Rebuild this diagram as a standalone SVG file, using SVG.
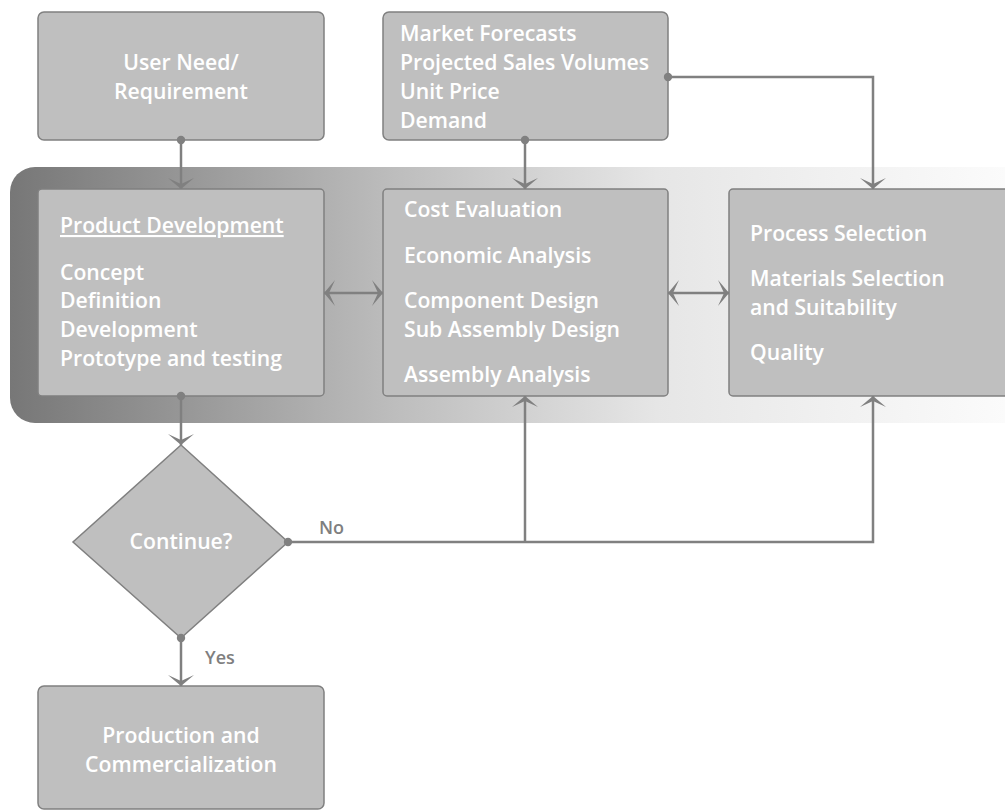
<svg xmlns="http://www.w3.org/2000/svg" width="1005" height="811" viewBox="0 0 1005 811">
<defs>
<linearGradient id="band" x1="10" y1="0" x2="1005" y2="0" gradientUnits="userSpaceOnUse">
<stop offset="0" stop-color="#777777"/>
<stop offset="0.38" stop-color="#bcbcbc"/>
<stop offset="0.65" stop-color="#e6e6e6"/>
<stop offset="1" stop-color="#fbfbfb"/>
</linearGradient>
<marker id="arr" viewBox="-14 -14 28 28" markerWidth="28" markerHeight="28" refX="0" refY="0" orient="auto-start-reverse" markerUnits="userSpaceOnUse">
<path d="M0,0 L-11,-13 L-5,0 L-11,13 Z" fill="#808080"/>
</marker>
<marker id="dot" viewBox="-5 -5 10 10" markerWidth="10" markerHeight="10" refX="0" refY="0" markerUnits="userSpaceOnUse">
<circle cx="0" cy="0" r="4.2" fill="#808080"/>
</marker>
<style>
.box{fill:#bfbfbf;stroke:#808080;stroke-width:1.5}
.t{font-family:"Open Sans","Liberation Sans",sans-serif;font-weight:600;font-size:21.2px;fill:#ffffff}
.c{text-anchor:middle}
.lbl{font-family:"Open Sans","Liberation Sans",sans-serif;font-weight:600;font-size:18px;fill:#7f7f7f}
.ln{fill:none;stroke:#808080;stroke-width:2.5}
</style>
</defs>
<rect x="0" y="0" width="1005" height="811" fill="#ffffff"/>
<rect id="band-bg" x="10" y="167" width="1030" height="256" rx="25" ry="25" fill="url(#band)"/>

<g id="user-need">
<rect class="box" x="38" y="12" width="286" height="128" rx="6"/>
<text class="t c" x="181" y="70">User Need/</text>
<text class="t c" x="181" y="99">Requirement</text>
</g>

<g id="market">
<rect class="box" x="383" y="12" width="285" height="128" rx="6"/>
<text class="t" x="400" y="41">Market Forecasts</text>
<text class="t" x="400" y="70">Projected Sales Volumes</text>
<text class="t" x="400" y="99">Unit Price</text>
<text class="t" x="400" y="128">Demand</text>
</g>

<g id="product-dev">
<rect class="box" x="38" y="189" width="286" height="207" rx="4"/>
<text class="t" x="60" y="233" text-decoration="underline">Product Development</text>
<text class="t" x="60" y="280">Concept</text>
<text class="t" x="60" y="308">Definition</text>
<text class="t" x="60" y="337">Development</text>
<text class="t" x="60" y="366">Prototype and testing</text>
</g>

<g id="cost">
<rect class="box" x="383" y="189" width="285" height="207" rx="4"/>
<text class="t" x="404" y="217">Cost Evaluation</text>
<text class="t" x="404" y="263">Economic Analysis</text>
<text class="t" x="404" y="308">Component Design</text>
<text class="t" x="404" y="337">Sub Assembly Design</text>
<text class="t" x="404" y="382">Assembly Analysis</text>
</g>

<g id="process">
<rect class="box" x="729" y="189" width="300" height="207" rx="4"/>
<text class="t" x="750" y="241">Process Selection</text>
<text class="t" x="750" y="286">Materials Selection</text>
<text class="t" x="750" y="315">and Suitability</text>
<text class="t" x="750" y="360">Quality</text>
</g>

<g id="continue">
<polygon class="box" points="181,445 288,542 181,638 73,542"/>
<text class="t c" x="181" y="549">Continue?</text>
</g>

<g id="production">
<rect class="box" x="38" y="686" width="286" height="123" rx="6"/>
<text class="t c" x="181" y="743">Production and</text>
<text class="t c" x="181" y="772">Commercialization</text>
</g>

<g id="connectors">
<path class="ln" d="M181,140 V189" marker-start="url(#dot)" marker-end="url(#arr)"/>
<path class="ln" d="M525,140 V189" marker-start="url(#dot)" marker-end="url(#arr)"/>
<path class="ln" d="M668,77 H873 V189" marker-start="url(#dot)" marker-end="url(#arr)"/>
<path class="ln" d="M324,293 H383" marker-start="url(#arr)" marker-end="url(#arr)"/>
<path class="ln" d="M668,293 H729" marker-start="url(#arr)" marker-end="url(#arr)"/>
<path class="ln" d="M181,396 V445" marker-start="url(#dot)" marker-end="url(#arr)"/>
<path class="ln" d="M288,542 H873 V396" marker-start="url(#dot)" marker-end="url(#arr)"/>
<path class="ln" d="M525,542 V396" marker-end="url(#arr)"/>
<path class="ln" d="M181,638 V686" marker-start="url(#dot)" marker-end="url(#arr)"/>
<text class="lbl" x="319" y="534">No</text>
<text class="lbl" x="205" y="664">Yes</text>
</g>
</svg>
